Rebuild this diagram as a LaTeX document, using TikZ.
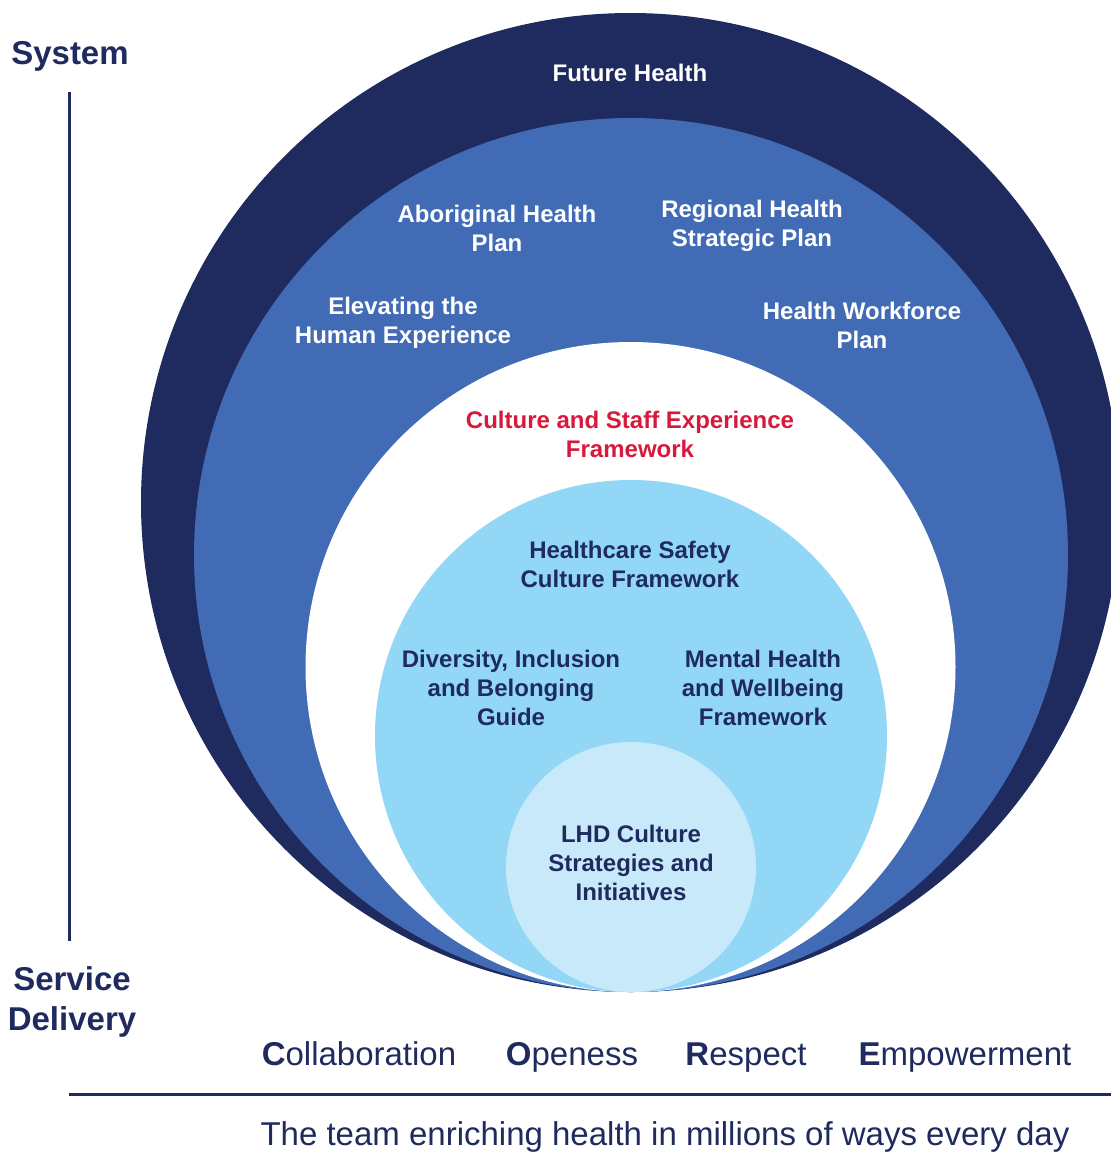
\documentclass[tikz,border=0pt]{standalone}
\usepackage{fontspec}
\setmainfont{Liberation Sans}
\definecolor{navy}{RGB}{31,43,94}
\definecolor{midblue}{RGB}{65,107,181}
\definecolor{skyblue}{RGB}{146,215,245}
\definecolor{paleblue}{RGB}{200,233,249}
\definecolor{cultred}{RGB}{215,25,60}
\tikzset{
  ringlabel/.style={text=white,font=\bfseries\fontsize{24}{29}\selectfont,align=center},
  corelabel/.style={text=navy,font=\bfseries\fontsize{24}{29}\selectfont,align=center},
  sidelabel/.style={text=navy,font=\bfseries\fontsize{33}{40}\selectfont,align=center},
  valuelabel/.style={text=navy,font=\fontsize{33}{40}\selectfont,anchor=base},
}
\begin{document}
\begin{tikzpicture}[x=1pt,y=-1pt]
\useasboundingbox (0,0) rectangle (1111,1171);
\begin{scope}
\clip (0,0) rectangle (1111,1171);
\fill[navy] (630.5,502.5) circle [radius=489.5];
\end{scope}
\fill[midblue] (631,555) circle [radius=437];
\fill[white] (630.5,667) circle [radius=325];
\fill[skyblue] (631,736) circle [radius=256];
\fill[paleblue] (631,867) circle [radius=125];

\node[sidelabel] (system) at (70,56) {System};
\node[sidelabel] (service) at (72,1002) {Service\\Delivery};
\coordinate (top) at (69,92);
\coordinate (bottom) at (69,941);
\draw[navy,line width=3] (top) -- (bottom);
\coordinate (ruleL) at (69,1094);
\coordinate (ruleR) at (1111,1094);
\draw[navy,line width=3] (ruleL) -- (ruleR);

\node[ringlabel] (future) at (630,73) {Future Health};
\node[ringlabel] (aboriginal) at (497,228) {Aboriginal Health\\Plan};
\node[ringlabel] (regional) at (752,226) {Regional Health\\Strategic Plan};
\node[ringlabel] (elevating) at (403,323) {Elevating the\\Human Experience};
\node[ringlabel] (workforce) at (862,325) {Health Workforce\\Plan};
\node[ringlabel,text=cultred] (culture) at (630,434) {Culture and Staff Experience\\Framework};

\node[corelabel] (safety) at (630,564) {Healthcare Safety\\Culture Framework};
\node[corelabel] (diversity) at (511,688) {Diversity, Inclusion\\and Belonging\\Guide};
\node[corelabel] (mental) at (763,688) {Mental Health\\and Wellbeing\\Framework};
\node[corelabel] (lhd) at (631,863) {LHD Culture\\Strategies and\\Initiatives};

\node[valuelabel] (collab) at (359,1065) {{\bfseries C}ollaboration};
\node[valuelabel] (open) at (572,1065) {{\bfseries O}peness};
\node[valuelabel] (respect) at (746,1065) {{\bfseries R}espect};
\node[valuelabel] (empower) at (965,1065) {{\bfseries E}mpowerment};

\node[valuelabel] (tagline) at (665,1145) {The team enriching health in millions of ways every day};
\end{tikzpicture}
\end{document}
